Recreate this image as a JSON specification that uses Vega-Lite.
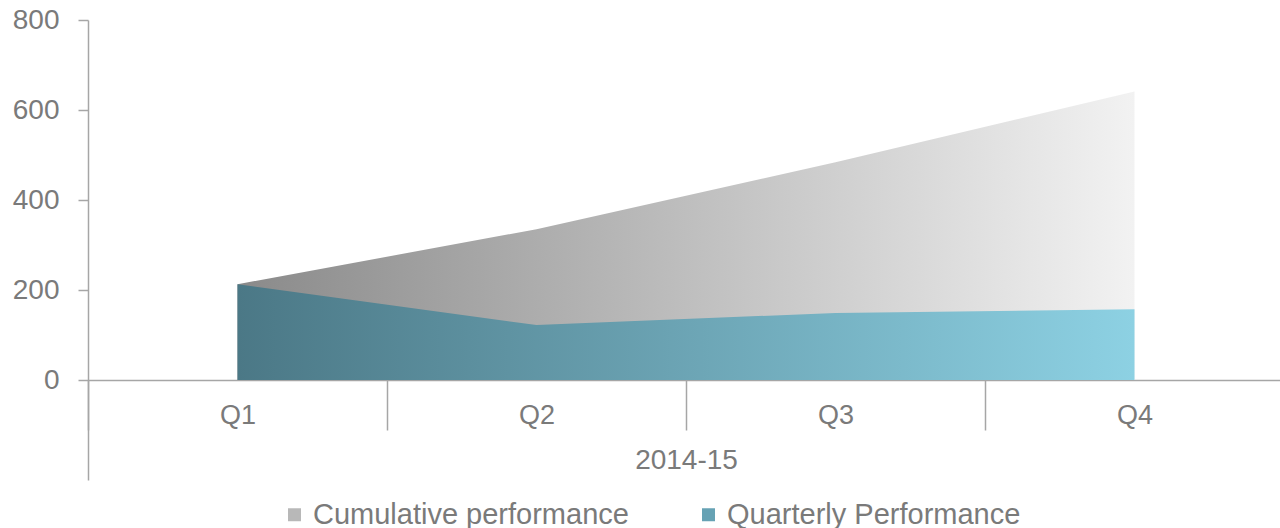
{
  "$schema": "https://vega.github.io/schema/vega-lite/v6.json",
  "width": 1196,
  "height": 460,
  "padding": {"left": 12, "top": 6, "right": 0, "bottom": 0},
  "background": "white",
  "data": {
    "values": [
      {"quarter": "Q1", "series": "Cumulative performance", "value": 213},
      {"quarter": "Q2", "series": "Cumulative performance", "value": 335},
      {"quarter": "Q3", "series": "Cumulative performance", "value": 484},
      {"quarter": "Q4", "series": "Cumulative performance", "value": 641},
      {"quarter": "Q1", "series": "Quarterly Performance", "value": 213},
      {"quarter": "Q2", "series": "Quarterly Performance", "value": 122},
      {"quarter": "Q3", "series": "Quarterly Performance", "value": 149},
      {"quarter": "Q4", "series": "Quarterly Performance", "value": 157}
    ]
  },
  "encoding": {
    "x": {
      "field": "quarter",
      "type": "ordinal",
      "bandPosition": 0.5,
      "scale": {"type": "band", "paddingInner": 0, "paddingOuter": 0},
      "title": "2014-15",
      "axis": {
        "orient": "bottom",
        "offset": -100,
        "labelAngle": 0,
        "tickBand": "extent",
        "tickSize": 50,
        "labelPadding": -28,
        "titlePadding": 16,
        "domainColor": "#a6a6a6",
        "domainWidth": 1.5,
        "tickColor": "#a6a6a6",
        "tickWidth": 1.5,
        "labelFont": "Liberation Sans",
        "labelFontSize": 27,
        "labelColor": "#7a7a7a",
        "titleFont": "Liberation Sans",
        "titleFontSize": 28,
        "titleFontWeight": "normal",
        "titleColor": "#7a7a7a"
      }
    },
    "y": {
      "field": "value",
      "type": "quantitative",
      "stack": null,
      "scale": {"domain": [-222.2, 800], "nice": false, "zero": false},
      "title": null,
      "axis": {
        "values": [0, 200, 400, 600, 800],
        "grid": false,
        "tickSize": 10,
        "labelPadding": 19,
        "domainColor": "#a6a6a6",
        "domainWidth": 1.5,
        "tickColor": "#a6a6a6",
        "tickWidth": 1.5,
        "labelFont": "Liberation Sans",
        "labelFontSize": 28,
        "labelColor": "#7a7a7a"
      }
    }
  },
  "layer": [
    {
      "transform": [{"filter": "datum.series === 'Cumulative performance'"}],
      "mark": {
        "type": "area",
        "color": {"gradient": "linear", "x1": 0, "y1": 0, "x2": 1, "y2": 0, "stops": [{"offset": 0, "color": "#8a8a8a"}, {"offset": 1, "color": "#f2f2f2"}]}
      }
    },
    {
      "transform": [{"filter": "datum.series === 'Quarterly Performance'"}],
      "mark": {
        "type": "area",
        "color": {"gradient": "linear", "x1": 0, "y1": 0, "x2": 1, "y2": 0, "stops": [{"offset": 0, "color": "#4b7886"}, {"offset": 1, "color": "#8dd1e3"}]}
      }
    },
    {
      "mark": {"type": "point", "filled": true, "opacity": 0, "size": 1},
      "encoding": {
        "color": {
          "field": "series",
          "type": "nominal",
          "scale": {
            "domain": ["Cumulative performance", "Quarterly Performance"],
            "range": ["#b8b8b8", "#66a2b4"]
          },
          "legend": {
            "orient": "none",
            "legendX": 192,
            "legendY": 480,
            "padding": 0,
            "direction": "horizontal",
            "title": null,
            "symbolType": "square",
            "symbolSize": 169,
            "symbolOpacity": 1,
            "symbolStrokeWidth": 0,
            "labelFont": "Liberation Sans",
            "labelFontSize": 29,
            "labelColor": "#7a7a7a",
            "labelOffset": 4,
            "columnPadding": 65,
            "labelLimit": 500
          }
        }
      }
    }
  ],
  "config": {"view": {"stroke": null}}
}
